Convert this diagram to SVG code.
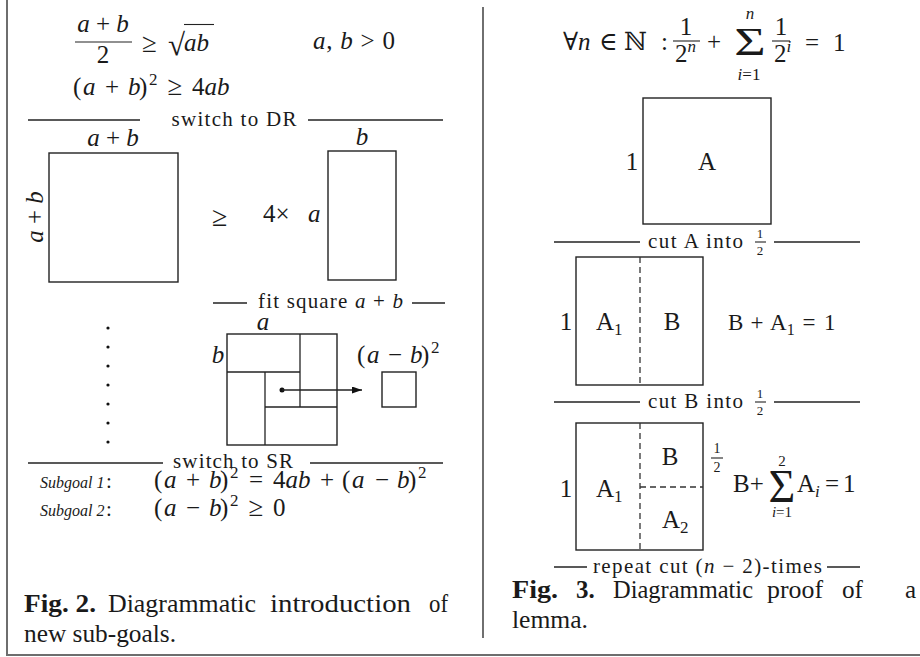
<svg xmlns="http://www.w3.org/2000/svg" width="920" height="657" viewBox="0 0 920 657">
<defs>
<style>
.t{font-family:"Liberation Serif","DejaVu Serif",serif;fill:#1a1a1a;font-size:25px}
.i{font-style:italic}
.b{font-weight:bold}
.s{font-size:21px}
.c{text-anchor:middle}
.ln{stroke:#222;stroke-width:1.3;fill:none}
.bx{stroke:#222;stroke-width:1.4;fill:none}
.fr{stroke:#222;stroke-width:1.1}
.dash{stroke:#333;stroke-width:1.3;stroke-dasharray:6 4;fill:none}
</style>
<marker id="ah" markerUnits="userSpaceOnUse" markerWidth="11" markerHeight="8" refX="10" refY="3.5" orient="auto">
<path d="M0,0 L10,3.5 L0,7 z" fill="#111"/>
</marker>
</defs>
<rect width="920" height="657" fill="#fff"/>
<g id="frame">
<line x1="7" y1="0" x2="7" y2="656" stroke="#6e6e6e" stroke-width="2"/>
<line x1="6" y1="655" x2="920" y2="655" stroke="#6e6e6e" stroke-width="2"/>
<line x1="483" y1="7" x2="483" y2="638" stroke="#222" stroke-width="1.3"/>
</g>
<g id="fig2">
<g id="premise">
<text class="t c" x="103" y="32"><tspan class="i">a</tspan> + <tspan class="i">b</tspan></text>
<line class="fr" x1="75" y1="42" x2="132" y2="42"/>
<text class="t c" x="103" y="63">2</text>
<text class="t" x="142" y="52" style="font-size:27px">≥</text>
<text class="t" x="168" y="55" style="font-size:31px">√</text>
<line class="fr" x1="184" y1="24.5" x2="214" y2="24.5"/>
<text class="t i" x="184" y="51">ab</text>
<text class="t" x="313" y="49" textLength="82"><tspan class="i">a</tspan>, <tspan class="i">b</tspan> &gt; 0</text>
<text class="t" x="73" y="95">(</text>
<text class="t i" x="83" y="95">a</text>
<text class="t c" x="112" y="95">+</text>
<text class="t i" x="128" y="95">b</text>
<text class="t" x="139" y="95">)</text>
<text class="t" x="149" y="85" style="font-size:17px">2</text>
<text class="t c" x="175" y="95" style="font-size:27px">≥</text>
<text class="t" x="192" y="95">4<tspan class="i">ab</tspan></text>
</g>
<g id="sep-dr">
<line class="ln" x1="28" y1="120" x2="140" y2="120"/>
<line class="ln" x1="308" y1="120" x2="443" y2="120"/>
<text class="t s c" x="234" y="126" textLength="125">switch to DR</text>
</g>
<g id="big-square">
<text class="t c" x="113" y="146"><tspan class="i">a</tspan> + <tspan class="i">b</tspan></text>
<rect class="bx" x="49" y="153" width="129" height="129"/>
<text class="t c" transform="translate(43,217) rotate(-90)"><tspan class="i">a</tspan> + <tspan class="i">b</tspan></text>
</g>
<text class="t" x="212" y="226" style="font-size:28px">≥</text>
<text class="t" x="263" y="222">4×</text>
<g id="rect-ab">
<text class="t i" x="308" y="222">a</text>
<text class="t i c" x="362" y="145">b</text>
<rect class="bx" x="328" y="151" width="68" height="129"/>
</g>
<g id="sep-fit">
<line class="ln" x1="213" y1="303" x2="247" y2="303"/>
<line class="ln" x1="412" y1="303" x2="445" y2="303"/>
<text class="t s" x="258" y="308" textLength="145">fit square <tspan class="i">a</tspan> + <tspan class="i">b</tspan></text>
</g>
<g id="dots" fill="#111">
<circle cx="108" cy="328" r="1.6"/><circle cx="108" cy="347" r="1.6"/><circle cx="108" cy="366" r="1.6"/><circle cx="108" cy="385" r="1.6"/><circle cx="108" cy="404" r="1.6"/><circle cx="108" cy="423" r="1.6"/><circle cx="108" cy="442" r="1.6"/>
</g>
<g id="fitted-square">
<text class="t i c" x="263" y="330">a</text>
<text class="t i c" x="218" y="363">b</text>
<rect class="bx" x="227" y="334" width="110" height="111"/>
<line class="ln" x1="300" y1="334" x2="300" y2="407"/>
<line class="ln" x1="227" y1="372" x2="300" y2="372"/>
<line class="ln" x1="265" y1="372" x2="265" y2="445"/>
<line class="ln" x1="265" y1="407" x2="337" y2="407"/>
</g>
<g id="diff-square">
<text class="t" x="357" y="363">(</text>
<text class="t i" x="367" y="363">a</text>
<text class="t c" x="395" y="363">−</text>
<text class="t i" x="410" y="363">b</text>
<text class="t" x="421" y="363">)</text>
<text class="t" x="431" y="353" style="font-size:17px">2</text>
<rect class="bx" x="382" y="372" width="34" height="35"/>
</g>
<g id="connectors">
<circle cx="282" cy="390" r="2.5" fill="#111"/>
<line class="ln" x1="282" y1="390" x2="362" y2="390" marker-end="url(#ah)"/>
</g>
<g id="sep-sr">
<line class="ln" x1="28" y1="463" x2="163" y2="463"/>
<line class="ln" x1="310" y1="463" x2="443" y2="463"/>
<text class="t s c" x="233" y="468" textLength="120">switch to SR</text>
</g>
<g id="subgoal1">
<text class="t i" x="40" y="488" style="font-size:16px">Subgoal 1</text>
<text class="t" x="106" y="488" style="font-size:21px">:</text>
<text class="t" x="154" y="488">(</text>
<text class="t i" x="164" y="488">a</text>
<text class="t c" x="193" y="488">+</text>
<text class="t i" x="209" y="488">b</text>
<text class="t" x="220" y="488">)</text>
<text class="t" x="230" y="478" style="font-size:17px">2</text>
<text class="t c" x="256" y="488">=</text>
<text class="t" x="273" y="488">4<tspan class="i">ab</tspan></text>
<text class="t c" x="327" y="488">+</text>
<text class="t" x="342" y="488">(</text>
<text class="t i" x="352" y="488">a</text>
<text class="t c" x="382" y="488">−</text>
<text class="t i" x="397" y="488">b</text>
<text class="t" x="408" y="488">)</text>
<text class="t" x="418" y="478" style="font-size:17px">2</text>
</g>
<g id="subgoal2">
<text class="t i" x="40" y="516" style="font-size:16px">Subgoal 2</text>
<text class="t" x="106" y="516" style="font-size:21px">:</text>
<text class="t" x="154" y="516">(</text>
<text class="t i" x="164" y="516">a</text>
<text class="t c" x="193" y="516">−</text>
<text class="t i" x="209" y="516">b</text>
<text class="t" x="220" y="516">)</text>
<text class="t" x="230" y="506" style="font-size:17px">2</text>
<text class="t c" x="256" y="516" style="font-size:27px">≥</text>
<text class="t" x="273" y="516">0</text>
</g>
<g id="caption2">
<text class="t b" x="24" y="612" textLength="72" lengthAdjust="spacingAndGlyphs">Fig. 2.</text>
<text class="t" x="108" y="612" textLength="148" lengthAdjust="spacingAndGlyphs">Diagrammatic</text>
<text class="t" x="270" y="612" textLength="141" lengthAdjust="spacingAndGlyphs">introduction</text>
<text class="t" x="429" y="612" textLength="19" lengthAdjust="spacingAndGlyphs">of</text>
<text class="t" x="24" y="642" textLength="152" lengthAdjust="spacingAndGlyphs">new sub-goals.</text>
</g>
</g>
<g id="fig3">
<g id="lemma">
<text class="t" x="563" y="50">∀</text>
<text class="t i" x="578" y="50">n</text>
<text class="t" x="599" y="50">∈</text>
<text class="t" x="624" y="50">ℕ</text>
<text class="t" x="661" y="50">:</text>
<text class="t c" x="686" y="35">1</text>
<line class="fr" x1="673" y1="41" x2="700" y2="41"/>
<text class="t" x="675" y="62">2<tspan class="i" dy="-10" style="font-size:17px">n</tspan></text>
<text class="t" x="707" y="50">+</text>
<text class="t c" transform="translate(750,55) scale(1.35,1)" style="font-size:40px">Σ</text>
<text class="t i c" x="750" y="19" style="font-size:17px">n</text>
<text class="t c" x="749" y="80" style="font-size:17px"><tspan class="i">i</tspan>=1</text>
<text class="t c" x="781" y="35">1</text>
<line class="fr" x1="772" y1="41" x2="790" y2="41"/>
<text class="t" x="774" y="62">2<tspan class="i" dy="-10" style="font-size:17px">i</tspan></text>
<text class="t" x="805" y="51">=</text>
<text class="t" x="833" y="51">1</text>
</g>
<g id="square-A">
<rect class="bx" x="643" y="98" width="128" height="126"/>
<text class="t c" x="632" y="170">1</text>
<text class="t c" x="707" y="170">A</text>
</g>
<g id="sep-cutA">
<line class="ln" x1="554" y1="242" x2="640" y2="242"/>
<line class="ln" x1="774" y1="242" x2="860" y2="242"/>
<text class="t s" x="648" y="248" textLength="95">cut A into</text>
<text class="t c" x="760" y="238" style="font-size:13px">1</text>
<line class="fr" x1="755" y1="242" x2="766" y2="242" stroke-width="0.8"/>
<text class="t c" x="760" y="255" style="font-size:13px">2</text>
</g>
<g id="square-AB">
<rect class="bx" x="576" y="257" width="127" height="128"/>
<line class="dash" x1="640" y1="257" x2="640" y2="385"/>
<text class="t c" x="566" y="330">1</text>
<text class="t" x="596" y="330">A<tspan dy="5" style="font-size:17px">1</tspan></text>
<text class="t c" x="672" y="330">B</text>
<text class="t" x="728" y="330" style="font-size:23px">B</text>
<text class="t c" x="757" y="330" style="font-size:23px">+</text>
<text class="t" x="770" y="330" style="font-size:23px">A<tspan dy="5" style="font-size:16px">1</tspan></text>
<text class="t c" x="809" y="330" style="font-size:23px">=</text>
<text class="t" x="824" y="330" style="font-size:23px">1</text>
</g>
<g id="sep-cutB">
<line class="ln" x1="554" y1="402" x2="640" y2="402"/>
<line class="ln" x1="774" y1="402" x2="860" y2="402"/>
<text class="t s" x="648" y="408" textLength="95">cut B into</text>
<text class="t c" x="760" y="398" style="font-size:13px">1</text>
<line class="fr" x1="755" y1="402" x2="766" y2="402" stroke-width="0.8"/>
<text class="t c" x="760" y="415" style="font-size:13px">2</text>
</g>
<g id="square-ABA2">
<rect class="bx" x="576" y="423" width="127" height="127"/>
<line class="dash" x1="640" y1="423" x2="640" y2="550"/>
<line class="dash" x1="640" y1="487" x2="703" y2="487"/>
<text class="t c" x="566" y="497">1</text>
<text class="t" x="596" y="497">A<tspan dy="5" style="font-size:17px">1</tspan></text>
<text class="t c" x="670" y="465">B</text>
<text class="t" x="662" y="528">A<tspan dy="5" style="font-size:17px">2</tspan></text>
<text class="t c" x="717" y="453" style="font-size:14px">1</text>
<line class="fr" x1="711" y1="458" x2="723" y2="458" stroke-width="0.8"/>
<text class="t c" x="717" y="472" style="font-size:14px">2</text>
<text class="t" x="733" y="492">B+</text>
<text class="t c" x="782" y="502" style="font-size:46px">Σ</text>
<text class="t c" x="782" y="466" style="font-size:15px">2</text>
<text class="t c" x="782" y="517" style="font-size:15px"><tspan class="i">i</tspan>=1</text>
<text class="t" x="797" y="492">A<tspan class="i" dy="5" style="font-size:17px">i</tspan></text>
<text class="t" x="825" y="492">=</text>
<text class="t" x="843" y="492">1</text>
</g>
<g id="sep-repeat">
<line class="ln" x1="554" y1="567" x2="587" y2="567"/>
<line class="ln" x1="827" y1="567" x2="860" y2="567"/>
<text class="t s" x="593" y="573" textLength="229">repeat cut (<tspan class="i">n</tspan> − 2)-times</text>
</g>
<g id="caption3">
<text class="t b" x="512" y="598" textLength="46" lengthAdjust="spacingAndGlyphs">Fig.</text>
<text class="t b" x="576" y="598">3.</text>
<text class="t" x="613" y="598" textLength="140" lengthAdjust="spacingAndGlyphs">Diagrammatic</text>
<text class="t" x="767" y="598" textLength="56" lengthAdjust="spacingAndGlyphs">proof</text>
<text class="t" x="842" y="598" textLength="21" lengthAdjust="spacingAndGlyphs">of</text>
<text class="t" x="905" y="598">a</text>
<text class="t" x="512" y="628" textLength="76" lengthAdjust="spacingAndGlyphs">lemma.</text>
</g>
</g>
</svg>
